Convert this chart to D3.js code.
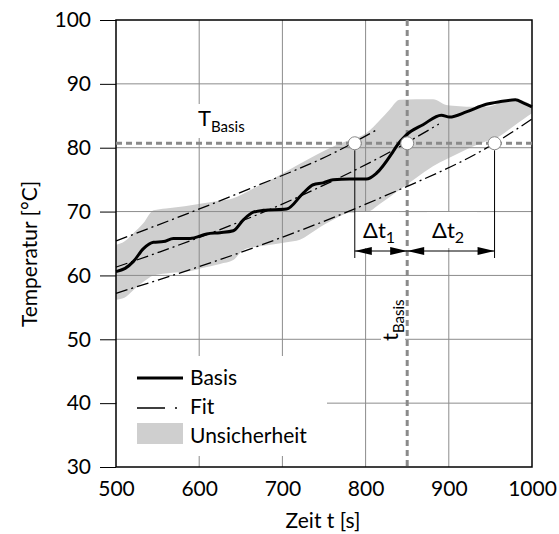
<!DOCTYPE html>
<html lang="de">
<head>
	<meta charset="UTF-8"/>
	<title>Temperatur Basis Fit</title>
	<script src="https://d3js.org/d3.v7.min.js"></script>
	<style>
		body { margin:0; background:#fff; }
		text { font-family: Lato, "DejaVu Sans", sans-serif; fill:#000; }
	</style>
</head>
<body>
<script>
	var w = 559;
	var h = 534;
	var margin = {left:116, top:20, right:27, bottom:67};

	// ---------- data ----------
	var xTicks = [500,600,700,800,900,1000];
	var yTicks = [30,40,50,60,70,80,90,100];

	// Basis curve
	var basisTime = [500,511,521,533,545,557,569,589,609,625,641,653,665,677,705,725,737,749,761,781,801,813,833,837,849,869,891,901,921,945,961,980,990,1000];
	var basisTemp = [60.6,61.1,62.2,64.2,65.2,65.3,65.8,65.8,66.5,66.7,67.0,68.7,69.9,70.2,70.4,72.9,74.2,74.5,75.0,75.1,75.1,76.0,79.4,80.2,82.0,83.6,85.1,84.8,85.6,86.8,87.2,87.5,87.0,86.4];

	// Fit lines (middle, upper, lower)
	var fitMidTime = [500,553,721,833,888];
	var fitMidTemp = [61.3,63.7,72.4,79.6,83.7];
	var fitUpTime = [500,661,765,812];
	var fitUpTemp = [65.4,73.6,79.4,82.7];
	var fitLoTime = [500,669,817,955,1000];
	var fitLoTemp = [57.2,64.5,72.1,80.7,84.5];

	// Unsicherheit band
	var bandTime = [500,510,520,533,545,560,575,590,605,625,641,653,669,690,705,721,741,761,781,801,817,829,841,861,881,897,913,929,945,961,977,990,1000];
	var bandHigh = [64.8,65.3,66.5,68.2,70.2,70.5,70.7,71.0,71.3,71.7,72.1,72.8,73.9,75.2,76.3,77.5,78.9,80.2,81.2,82.3,84.3,86.0,87.5,87.6,87.6,86.7,86.5,86.4,86.4,87.0,87.6,87.3,86.7];
	var bandLow = [56.2,56.5,57.6,59.0,60.0,60.3,60.5,60.7,61.2,61.8,62.4,64.0,64.5,64.9,65.2,65.6,67.2,68.7,69.8,69.9,71.2,72.3,73.4,75.3,77.1,78.2,79.2,80.2,81.0,81.8,83.3,84.5,85.4];

	var tBasis = 850;
	var TBasis = 80.7;
	var crossTimes = [787,850,955];

	// ---------- scales ----------
	var xScale = d3.scaleLinear()
				.domain([500,1000])
				.range([margin.left, w - margin.right]);
	var yScale = d3.scaleLinear()
				.domain([30,100])
				.range([h - margin.bottom, margin.top]);

	var x0 = xScale(500), x1 = xScale(1000);
	var y0 = yScale(30), y1 = yScale(100);

	var svg = d3.select("body")
				.append("svg")
				.attr("width",w)
				.attr("height",h);

	//------------band-------------
	var area = d3.area()
				.x(function(d,i){ return xScale(bandTime[i]); })
				.y0(function(d,i){ return yScale(bandLow[i]); })
				.y1(function(d,i){ return yScale(bandHigh[i]); })
				.curve(d3.curveMonotoneX);
	svg.append("path")
		.datum(bandTime)
		.attr("d",area)
		.attr("fill","#cfcfcf");

	//------------grid-------------
	svg.selectAll(".vgrid")
		.data(xTicks.slice(1,-1))
		.enter()
		.append("line")
		.attr("x1",function(d){ return xScale(d); })
		.attr("x2",function(d){ return xScale(d); })
		.attr("y1",y1)
		.attr("y2",y0)
		.attr("stroke","#8c8c8c")
		.attr("stroke-width",1);

	svg.selectAll(".hgrid")
		.data(yTicks.slice(1,-1))
		.enter()
		.append("line")
		.attr("x1",x0)
		.attr("x2",x1)
		.attr("y1",function(d){ return yScale(d); })
		.attr("y2",function(d){ return yScale(d); })
		.attr("stroke","#8c8c8c")
		.attr("stroke-width",1);

	// white boxes behind labels
	var boxes = [[196,104,58,34],[381,278,24,70],[355,212,44,36],[427,212,50,36],[117,356,210,100]];
	svg.selectAll(".box")
		.data(boxes)
		.enter()
		.append("rect")
		.attr("x",function(d){ return d[0]; })
		.attr("y",function(d){ return d[1]; })
		.attr("width",function(d){ return d[2]; })
		.attr("height",function(d){ return d[3]; })
		.attr("fill","#fff");

	//------------axes-------------
	var yAxis = d3.axisLeft(yScale)
				.tickValues(yTicks)
				.tickSize(16)
				.tickSizeOuter(0)
				.tickPadding(9);
	var gy = svg.append("g")
		.attr("transform","translate(" + x0 + ",0)")
		.call(yAxis);
	gy.select(".domain").remove();
	gy.selectAll("line").attr("stroke","#000");
	gy.selectAll("text").attr("font-size",21).style("font-family","Lato, sans-serif");

	var xAxis = d3.axisBottom(xScale)
				.tickValues(xTicks)
				.tickFormat(d3.format("d"))
				.tickSize(0)
				.tickPadding(14);
	var gx = svg.append("g")
		.attr("transform","translate(0," + y0 + ")")
		.call(xAxis);
	gx.select(".domain").remove();
	gx.selectAll("text").attr("font-size",21).style("font-family","Lato, sans-serif");

	// frame
	svg.append("rect")
		.attr("x",x0)
		.attr("y",y1)
		.attr("width",x1-x0)
		.attr("height",y0-y1)
		.attr("fill","none")
		.attr("stroke","#000")
		.attr("stroke-width",1.5);

	//------------dashed reference lines-------------
	svg.append("line")
		.attr("x1",x0).attr("x2",x1)
		.attr("y1",yScale(TBasis)).attr("y2",yScale(TBasis))
		.attr("stroke","#8a8a8a")
		.attr("stroke-width",3)
		.attr("stroke-dasharray","6,4");
	svg.append("line")
		.attr("x1",xScale(tBasis)).attr("x2",xScale(tBasis))
		.attr("y1",y1).attr("y2",y0)
		.attr("stroke","#8a8a8a")
		.attr("stroke-width",3)
		.attr("stroke-dasharray","6,4");

	//------------fit lines-------------
	function fitLine(times, temps){
		return d3.line()
			.x(function(d,i){ return xScale(times[i]); })
			.y(function(d,i){ return yScale(temps[i]); })
			.curve(d3.curveMonotoneX)(times);
	}
	[[fitMidTime,fitMidTemp],[fitUpTime,fitUpTemp],[fitLoTime,fitLoTemp]].forEach(function(f){
		svg.append("path")
			.attr("d",fitLine(f[0],f[1]))
			.attr("fill","none")
			.attr("stroke","#000")
			.attr("stroke-width",1.3)
			.attr("stroke-dasharray","12,4,2,4");
	});

	//------------basis curve-------------
	svg.append("path")
		.attr("d",fitLine(basisTime,basisTemp))
		.attr("fill","none")
		.attr("stroke","#000")
		.attr("stroke-width",3)
		.attr("stroke-linejoin","round");

	//------------dimension lines-------------
	var yDim = 251;
	[crossTimes[0],crossTimes[2]].forEach(function(t){
		svg.append("line")
			.attr("x1",xScale(t)).attr("x2",xScale(t))
			.attr("y1",yScale(TBasis)+7).attr("y2",258)
			.attr("stroke","#000").attr("stroke-width",1);
	});
	svg.append("line")
		.attr("x1",xScale(crossTimes[0])).attr("x2",xScale(crossTimes[2]))
		.attr("y1",yDim).attr("y2",yDim)
		.attr("stroke","#000").attr("stroke-width",1);

	function arrow(tip, dir){
		var len = 17, hw = 4;
		svg.append("path")
			.attr("d","M" + tip + "," + yDim + "L" + (tip - dir*len) + "," + (yDim-hw) + "L" + (tip - dir*len) + "," + (yDim+hw) + "Z")
			.attr("fill","#000");
	}
	arrow(xScale(crossTimes[0]), -1);
	arrow(xScale(tBasis), 1);
	arrow(xScale(tBasis), -1);
	arrow(xScale(crossTimes[2]), 1);

	//------------circles-------------
	svg.selectAll(".cross")
		.data(crossTimes)
		.enter()
		.append("circle")
		.attr("cx",function(d){ return xScale(d); })
		.attr("cy",yScale(TBasis))
		.attr("r",6.5)
		.attr("fill","#fff")
		.attr("stroke","#8a8a8a")
		.attr("stroke-width",1);

	//------------labels-------------
	var tl = svg.append("text").attr("x",198).attr("y",126).attr("font-size",22);
	tl.append("tspan").text("T");
	tl.append("tspan").attr("dy",6).attr("font-size",15).text("Basis");

	var tb = svg.append("text")
		.attr("transform","translate(398,341) rotate(-90)")
		.attr("font-size",22);
	tb.append("tspan").text("t");
	tb.append("tspan").attr("dy",6).attr("font-size",15).text("Basis");

	var d1 = svg.append("text").attr("x",363).attr("y",238).attr("font-size",22);
	d1.append("tspan").text("Δt");
	d1.append("tspan").attr("dy",5).attr("font-size",16).text("1");

	var d2 = svg.append("text").attr("x",432).attr("y",238).attr("font-size",22);
	d2.append("tspan").text("Δt");
	d2.append("tspan").attr("dy",5).attr("font-size",16).text("2");

	// axis titles
	svg.append("text")
		.attr("transform","translate(37,254) rotate(-90)")
		.attr("text-anchor","middle")
		.attr("font-size",21)
		.text("Temperatur [°C]");
	svg.append("text")
		.attr("x",323).attr("y",528)
		.attr("text-anchor","middle")
		.attr("font-size",21)
		.text("Zeit t [s]");

	//------------legend-------------
	svg.append("line")
		.attr("x1",137).attr("x2",183).attr("y1",378).attr("y2",378)
		.attr("stroke","#000").attr("stroke-width",3);
	svg.append("line")
		.attr("x1",137).attr("x2",180).attr("y1",408).attr("y2",408)
		.attr("stroke","#000").attr("stroke-width",1.3)
		.attr("stroke-dasharray","28,10,2,20");
	svg.append("rect")
		.attr("x",137).attr("y",423).attr("width",46).attr("height",21)
		.attr("fill","#cfcfcf");
	var legendNames = ["Basis","Fit","Unsicherheit"];
	svg.selectAll(".leg")
		.data(legendNames)
		.enter()
		.append("text")
		.attr("x",190)
		.attr("y",function(d,i){ return 385 + i*29; })
		.attr("font-size",21)
		.text(function(d){ return d; });
</script>
</body>
</html>
